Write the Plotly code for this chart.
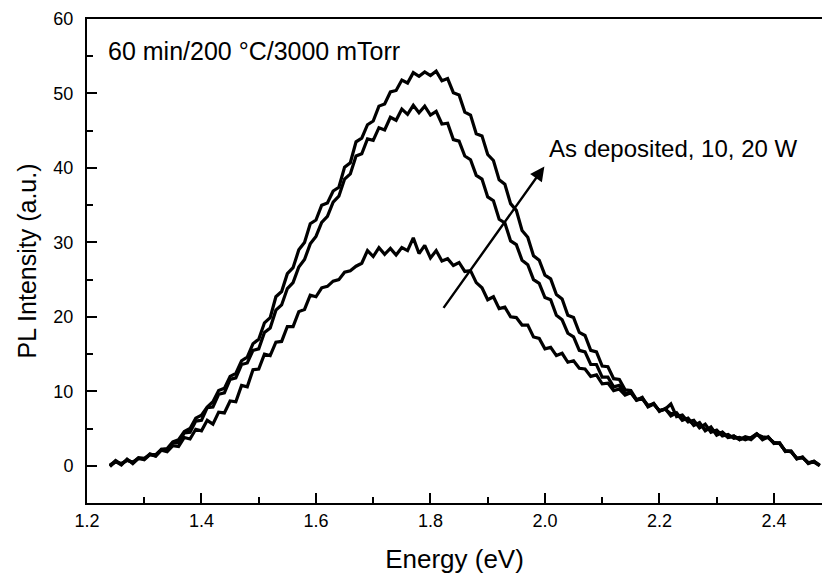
import numpy as np
import plotly.graph_objects as go

###############
## DATA ##
###############

# energy sampling of the spectra (eV), 0.01 eV step
energy = np.round(np.linspace(1.24, 2.48, 125), 2)

pl_20w = [
  0.0, 0.7, 0.2, 0.8, 0.4, 1.1, 1.0, 1.5, 1.5, 2.2,
  2.3, 3.2, 3.5, 4.6, 5.0, 6.4, 6.8, 7.9, 8.6, 10.1,
  10.4, 12.0, 12.4, 14.1, 14.6, 16.4, 17.0, 19.2, 19.9, 22.7,
  23.4, 25.8, 26.6, 29.0, 30.0, 32.5, 33.0, 35.0, 35.3, 36.9,
  37.4, 40.1, 40.7, 43.5, 44.0, 45.8, 46.3, 48.3, 48.6, 50.2,
  50.4, 51.8, 51.4, 52.8, 52.3, 52.9, 52.4, 53.0, 51.7, 52.0,
  50.1, 49.8, 47.5, 47.1, 44.6, 44.3, 41.8, 41.0, 38.4, 37.8,
  35.2, 34.3, 31.6, 30.7, 28.2, 27.6, 25.6, 25.1, 23.0, 22.4,
  20.2, 19.9, 17.9, 17.5, 15.5, 15.3, 13.4, 13.3, 11.7, 11.6,
  10.2, 10.1, 8.9, 9.1, 8.1, 8.3, 7.4, 7.6, 7.0, 7.0,
  6.2, 6.3, 5.5, 5.7, 4.9, 5.0, 4.3, 4.5, 3.8, 4.0,
  3.5, 3.9, 3.7, 4.3, 3.7, 3.8, 3.1, 3.0, 2.0, 1.9,
  1.0, 1.1, 0.4, 0.5, 0.0,
]

pl_10w = [
  0.1, 0.5, 0.3, 0.7, 0.5, 1.0, 0.9, 1.6, 1.3, 2.2,
  2.1, 3.1, 3.1, 4.4, 4.5, 6.0, 6.1, 7.8, 7.9, 9.6,
  9.8, 11.6, 11.8, 13.6, 13.8, 15.5, 15.7, 17.9, 18.5, 20.9,
  21.6, 23.8, 24.6, 26.7, 27.7, 29.8, 30.8, 32.7, 33.5, 35.4,
  36.2, 38.5, 39.2, 41.6, 41.9, 43.9, 43.7, 45.4, 45.1, 46.8,
  46.4, 47.9, 47.2, 48.4, 47.4, 48.3, 47.1, 47.6, 45.9, 46.0,
  43.8, 43.6, 41.6, 41.1, 39.0, 38.5, 36.1, 35.6, 33.1, 32.6,
  30.2, 29.7, 27.6, 27.0, 25.0, 24.5, 22.6, 22.3, 20.2, 19.6,
  17.8, 17.3, 15.5, 15.3, 13.6, 13.6, 11.9, 11.9, 10.6, 10.8,
  9.7, 9.9, 8.8, 9.0, 8.0, 8.4, 7.3, 7.7, 6.7, 7.1,
  6.1, 6.4, 5.4, 5.8, 4.7, 5.2, 4.1, 4.5, 3.8, 4.0,
  3.5, 3.8, 3.5, 4.2, 3.9, 3.8, 3.1, 3.0, 2.0, 1.9,
  1.0, 1.1, 0.4, 0.6, 0.1,
]

pl_as_dep = [
  -0.1, 0.6, 0.1, 0.9, 0.3, 1.0, 0.8, 1.5, 1.3, 2.1,
  1.9, 2.7, 2.6, 3.8, 3.6, 4.9, 4.7, 6.1, 5.6, 7.2,
  7.1, 8.7, 8.6, 10.8, 10.6, 12.9, 13.0, 15.0, 14.8, 16.6,
  16.7, 18.7, 18.7, 20.7, 21.0, 22.9, 22.7, 23.9, 24.1, 24.8,
  25.0, 26.0, 26.2, 26.8, 27.2, 28.9, 28.1, 29.3, 28.4, 29.2,
  28.3, 29.3, 28.9, 30.6, 28.5, 29.6, 27.9, 28.9, 27.5, 27.8,
  26.9, 27.3, 26.1, 26.2, 24.6, 23.9, 22.3, 22.7, 21.1, 21.3,
  20.0, 19.9, 18.9, 18.9, 17.3, 17.1, 15.7, 15.9, 14.8, 15.1,
  13.9, 14.1, 13.1, 13.0, 12.0, 12.2, 11.0, 11.1, 10.1, 10.3,
  9.5, 9.8, 8.8, 9.2, 7.9, 8.3, 7.4, 7.6, 8.3, 6.6,
  6.8, 5.9, 6.1, 5.1, 5.6, 4.5, 4.8, 4.0, 4.2, 3.7,
  3.8, 3.5, 3.8, 4.3, 3.5, 3.9, 3.0, 3.1, 1.9, 2.0,
  0.9, 1.2, 0.3, 0.6, 0.0,
]

x_ticks = [1.2, 1.4, 1.6, 1.8, 2.0, 2.2, 2.4]
y_ticks = [0, 10, 20, 30, 40, 50, 60]

FONT = "Liberation Sans, Arial, sans-serif"

#################
## MAIN SCRIPT ##
#################

fig = go.Figure()
for name, ys in [("As deposited", pl_as_dep), ("10 W", pl_10w), ("20 W", pl_20w)]:
  fig.add_trace(go.Scatter(
    x=energy, y=ys, mode="lines", name=name,
    line=dict(color="black", width=3.2)
  ))

fig.add_annotation(
  x=1.999, y=40.2, ax=1.821, ay=21.0,
  xref="x", yref="y", axref="x", ayref="y",
  text="", showarrow=True,
  arrowhead=2, arrowsize=1.2, arrowwidth=2.4, arrowcolor="black"
)
fig.add_annotation(
  x=2.004, y=42.6, xref="x", yref="y",
  text="As deposited, 10, 20 W", showarrow=False,
  xanchor="left", yanchor="middle",
  font=dict(size=24, color="black", family=FONT)
)
fig.add_annotation(
  x=1.234, y=55.7, xref="x", yref="y",
  text="60 min/200 °C/3000 mTorr", showarrow=False,
  xanchor="left", yanchor="middle",
  font=dict(size=25, color="black", family=FONT)
)

fig.update_layout(
  width=822, height=578,
  margin=dict(l=87, r=0, t=19, b=75),
  plot_bgcolor="white", paper_bgcolor="white",
  showlegend=False,
  font=dict(family=FONT, size=18, color="black"),
  xaxis=dict(
    range=[1.2, 2.484], tickvals=x_ticks, tickformat=".1f",
    ticks="inside", ticklen=10, tickwidth=2, tickcolor="black",
    minor=dict(dtick=0.1, ticks="inside", ticklen=6, tickwidth=2, tickcolor="black"),
    showline=True, linewidth=2, linecolor="black", mirror=True,
    showgrid=False, zeroline=False,
    title=dict(text="Energy (eV)", font=dict(size=26), standoff=20)
  ),
  yaxis=dict(
    range=[-5, 60], tickvals=y_ticks,
    ticks="inside", ticklen=10, tickwidth=2, tickcolor="black",
    minor=dict(dtick=5, tick0=0, ticks="inside", ticklen=6, tickwidth=2, tickcolor="black"),
    showline=True, linewidth=2, linecolor="black",
    showgrid=False, zeroline=False, ticklabelstandoff=8,
    title=dict(text="PL Intensity (a.u.)", font=dict(size=25), standoff=10)
  )
)

# drop the default body margin so the figure fills the window exactly
fig.write_html(
  "out.html",
  config={"displayModeBar": False},
  post_script="document.body.style.margin='0';document.body.style.overflow='hidden';"
)
